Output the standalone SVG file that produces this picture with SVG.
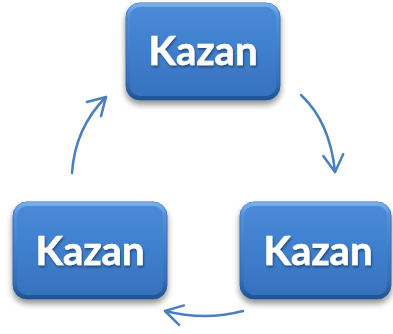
<svg xmlns="http://www.w3.org/2000/svg" width="393" height="334" viewBox="0 0 393 334">
  <defs>
    <linearGradient id="face" x1="0" y1="0" x2="0" y2="1">
      <stop offset="0" stop-color="#4a8bd9"/>
      <stop offset="0.5" stop-color="#3f7fcd"/>
      <stop offset="1" stop-color="#3670bd"/>
    </linearGradient>
    <linearGradient id="bevel" x1="0" y1="0" x2="0" y2="1">
      <stop offset="0" stop-color="#80b6ee" stop-opacity="0.8"/>
      <stop offset="0.15" stop-color="#6aa4e8" stop-opacity="0.25"/>
      <stop offset="0.8" stop-color="#2a5a9a" stop-opacity="0.2"/>
      <stop offset="1" stop-color="#1f4c88" stop-opacity="0.8"/>
    </linearGradient>
    <filter id="shadow" x="-20%" y="-20%" width="140%" height="150%">
      <feGaussianBlur in="SourceAlpha" stdDeviation="3"/>
      <feOffset dx="0" dy="4" result="b"/>
      <feComponentTransfer><feFuncA type="linear" slope="0.45"/></feComponentTransfer>
      <feMerge><feMergeNode/><feMergeNode in="SourceGraphic"/></feMerge>
    </filter>
    <filter id="tshadow" x="-10%" y="-20%" width="120%" height="150%">
      <feGaussianBlur in="SourceAlpha" stdDeviation="1"/>
      <feOffset dx="1" dy="2"/>
      <feComponentTransfer><feFuncA type="linear" slope="0.4"/></feComponentTransfer>
      <feMerge><feMergeNode/><feMergeNode in="SourceGraphic"/></feMerge>
    </filter>
    <marker id="arrow" viewBox="-20 -12 22 24" refX="0" refY="0" markerWidth="22" markerHeight="24" markerUnits="userSpaceOnUse" orient="auto">
      <path d="M-17,-10 L0,0 L-17,10" fill="none" stroke="#4a7fc1" stroke-width="2.5" stroke-linecap="round" stroke-linejoin="round"/>
    </marker>
  </defs>
  <style>
    .box { fill: url(#face); stroke: #3468ac; stroke-width: 1; }
    .bev { fill: none; stroke: url(#bevel); stroke-width: 4; }
    .lbl { font-family: Lato, "Open Sans", "Liberation Sans", sans-serif; font-weight: bold; font-size: 40px; fill: #ffffff; stroke: #ffffff; stroke-width: 0.6; text-anchor: middle; }
    .conn { fill: none; stroke: #4a7fc1; stroke-width: 2.5; stroke-linecap: round; marker-end: url(#arrow); }
  </style>

  <g id="connectors">
    <path class="conn" d="M301,95 Q330,122 335,172"/>
    <path class="conn" d="M243,311 Q205,321 165,311"/>
    <path class="conn" d="M72,173 Q75,128 106,97"/>
  </g>

  <g id="node-top" filter="url(#shadow)">
    <rect class="box" x="126" y="3" width="154" height="97" rx="14"/>
    <rect class="bev" x="128" y="5" width="150" height="93" rx="12"/>
    <text class="lbl" x="203" y="65" filter="url(#tshadow)">Kazan</text>
  </g>

  <g id="node-left" filter="url(#shadow)">
    <rect class="box" x="13" y="202" width="154" height="97" rx="14"/>
    <rect class="bev" x="15" y="204" width="150" height="93" rx="12"/>
    <text class="lbl" x="90" y="265" filter="url(#tshadow)">Kazan</text>
  </g>

  <g id="node-right" filter="url(#shadow)">
    <rect class="box" x="240" y="202" width="151" height="97" rx="14"/>
    <rect class="bev" x="242" y="204" width="147" height="93" rx="12"/>
    <text class="lbl" x="318" y="265" filter="url(#tshadow)">Kazan</text>
  </g>
</svg>
